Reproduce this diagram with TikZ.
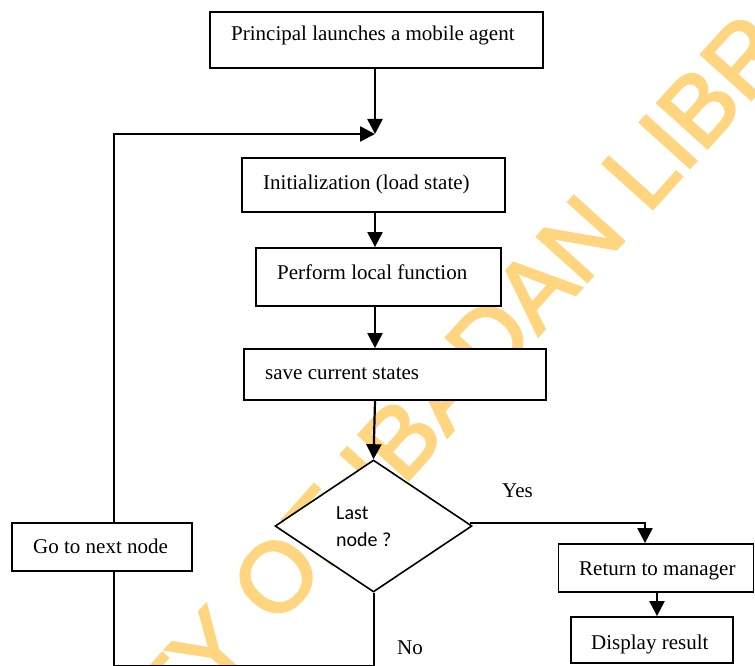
\documentclass[tikz,border=0pt]{standalone}
\usepackage{fontspec}
\setmainfont{Liberation Serif}
\newfontfamily\labelsans{Carlito}
\newfontfamily\markfont[RawFeature={embolden=2.5}]{Liberation Sans}
\usetikzlibrary{arrows.meta,shapes.geometric}
\definecolor{markgold}{RGB}{255,213,128}
\begin{document}
\begin{tikzpicture}[x=1pt,y=-1pt]
\tikzset{
  box/.style={draw=black,fill=white,line width=1.8pt,inner sep=0pt,rectangle},
  txt/.style={inner sep=0pt,anchor=base west,font=\fontsize{21}{25}\selectfont},
  flow/.style={line width=2.2pt,-{Triangle[length=15pt,width=15pt]}},
  heavyflow/.style={flow,line width=2.6pt},
  link/.style={line width=2pt},
}
\useasboundingbox (0,0) rectangle (755,666);
\clip (0,0) rectangle (755,666);

% library watermark behind the chart
\node[anchor=base west,rotate=48,text=markgold,inner sep=0pt,
      font=\markfont\fontsize{98}{98}\selectfont] (mark) at (-136,1085)
      {UNIVERSITY OF IBADAN LIBRARY};

% process boxes
\node[box,minimum width=333pt,minimum height=56pt] (launch) at (376.5,40) {};
\node[txt] (launch-t) at (231,40.5) {Principal launches a mobile agent};

\node[box,minimum width=263pt,minimum height=54pt] (init) at (373.5,185) {};
\node[txt] (init-t) at (263,189.3) {Initialization (load state)};

\node[box,minimum width=245pt,minimum height=58pt] (perf) at (378.5,277) {};
\node[txt] (perf-t) at (277,279.3) {Perform local function};

\node[box,minimum width=302pt,minimum height=51pt] (save) at (395,374.5) {};
\node[txt] (save-t) at (265,379.3) {save current states};

\node[box,minimum width=180pt,minimum height=48pt] (go) at (102,547) {};
\node[txt] (go-t) at (33,553.3) {Go to next node};

\node[box,minimum width=195pt,minimum height=48pt] (ret) at (656,568) {};
\node[txt] (ret-t) at (579,575) {Return to manager};

\node[box,minimum width=162pt,minimum height=46pt] (disp) at (652,640) {};
\node[txt] (disp-t) at (591,649.3) {Display result};

% decision
\node[draw=black,fill=white,diamond,line width=1.6pt,inner sep=0pt,
      minimum width=197pt,minimum height=132pt] (last) at (373.5,526) {};
\node[inner sep=0pt,anchor=base west,align=left,
      font=\labelsans\fontsize{20}{26.7}\selectfont] (last-t) at (336,546) {Last\\node ?};

\node[txt] (yes) at (502,497) {Yes};
\node[txt] (no) at (397,654.3) {No};

% connectors
\coordinate (j) at (375,134);
\coordinate (bend) at (114,134);
\coordinate (floor) at (114,666);
\coordinate (yesturn) at (645,523);

\draw[heavyflow] (j |- launch.south) -- (j);
\draw[heavyflow] (bend |- go.north) -- (bend) -- (j);
\draw[flow] (j |- init.south) -- (j |- perf.north);
\draw[flow] (j |- perf.south) -- (j |- save.north);
\draw[flow] (j |- save.south) -- (last.north);
\draw[flow] ([xshift=-3pt,yshift=3pt]last.east) -- (yesturn) -- (yesturn |- ret.north);
\draw[flow] ([xshift=1pt]ret.south) -- ([xshift=1pt]ret.south |- disp.north);
\draw[link] (last.south) -- (last.south |- floor) -- (floor) -- (floor |- go.south);
\end{tikzpicture}
\end{document}
